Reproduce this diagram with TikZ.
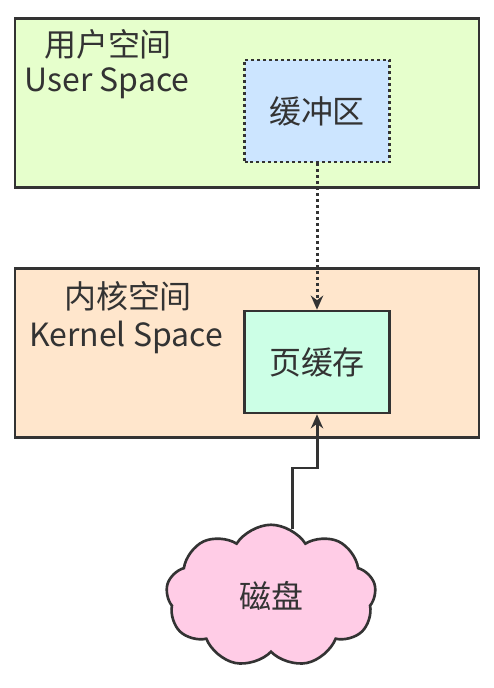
\documentclass[tikz,border=0pt]{standalone}
\usepackage{fontspec}
\usepackage{xcolor}
\usepackage{tikz}
\usetikzlibrary{arrows.meta,shapes.symbols}
\newfontfamily\cjk{Noto Sans CJK SC}

\definecolor{edge}{HTML}{333333}
\definecolor{usergreen}{HTML}{E6FFCC}
\definecolor{bufblue}{HTML}{CCE5FF}
\definecolor{kernorange}{HTML}{FFE6CC}
\definecolor{cachegreen}{HTML}{CCFFE6}
\definecolor{diskpink}{HTML}{FFCCE6}

\begin{document}
\begin{tikzpicture}[x=0.02cm,y=-0.02cm,
    font=\cjk\fontsize{18.2}{21}\selectfont, text=edge,
    space/.style={draw=edge,line width=1.5pt,minimum width=9.28cm,minimum height=3.38cm,inner sep=0pt},
    inbox/.style={draw=edge,line width=1.5pt,minimum width=2.9cm,minimum height=2.04cm,inner sep=0pt},
    lbl/.style={align=center,inner sep=0pt},
    dots/.style={dash pattern=on 1.7pt off 1.7pt},
    arr/.style={draw=edge,line width=1.7pt,-{Stealth[length=8pt,width=7pt]}}]
    \useasboundingbox (0,0) rectangle (493,688);
    \fill[white] (0,0) rectangle (493,688);
            % user space
            \node[space,fill=usergreen] (user) at (247,103) {};
            \node[lbl] (userzh) at (108,44) {用户空间};
            \node[lbl] (useren) at (107,83) {User Space};
            \node[inbox,fill=bufblue,dots] (buf) at (317,111) {缓冲区};
            % kernel space
            \node[space,fill=kernorange] (kern) at (247,353) {};
            \node[lbl] (kernzh) at (128,296) {内核空间};
            \node[lbl] (kernen) at (126,337) {Kernel Space};
            \node[inbox,fill=cachegreen] (cache) at (317,362) {页缓存};
            % disk
            \node[cloud,cloud puffs=9,cloud puff arc=115,aspect=1.5,draw=edge,line width=1.5pt,
                  fill=diskpink,minimum width=4.2cm,minimum height=2.85cm,inner sep=0pt] (disk) at (271,596) {磁盘};
            \draw[arr,dots] (buf.south) -- (cache.north);
            \draw[arr] (disk.72) |- (317,468) -- (cache.south);
        \end{tikzpicture}
\end{document}
